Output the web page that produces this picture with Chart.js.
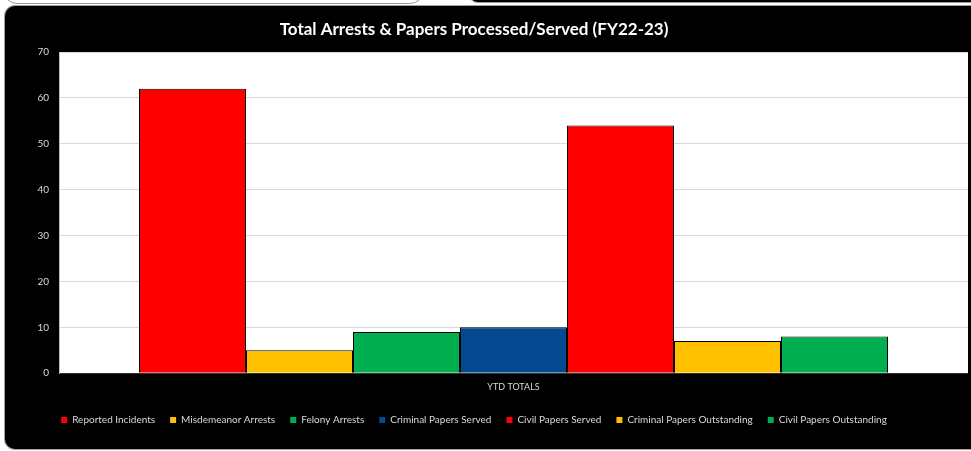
<!DOCTYPE html>
<html>
<head>
<meta charset="utf-8">
<script src="https://cdn.jsdelivr.net/npm/chart.js@4"></script>
<style>
  html, body { margin: 0; padding: 0; background: #fff; overflow: hidden; width: 971px; height: 451px; }
  .topLeft { position: absolute; left: 3px; top: -30px; width: 419px; height: 32px; border: 1px solid #9a9a9a; border-radius: 14px; background: #fff; }
  .topRight { position: absolute; left: 468px; top: -30px; width: 540px; height: 31px; background: #000; border: 1px solid #9a9a9a; border-radius: 10px; }
  .panel { position: absolute; left: 5px; top: 6px; width: 1000px; height: 443px; background: #000; border-radius: 10px; box-shadow: 0 0 0 1px #a0a0a0; }
  .wrap { position: absolute; left: 0; top: 0; width: 966px; height: 443px; }
</style>
</head>
<body>
<div class="topLeft"></div>
<div class="topRight"></div>
<div class="panel">
  <div class="wrap"><canvas id="arrests"></canvas></div>
</div>
<script>
const categories = ['YTD TOTALS'];
const seriesNames = ['Reported Incidents', 'Misdemeanor Arrests', 'Felony Arrests', 'Criminal Papers Served',
  'Civil Papers Served', 'Criminal Papers Outstanding', 'Civil Papers Outstanding'];
const seriesValues = [62, 5, 9, 10, 54, 7, 8];
const seriesColors = ['#ff0000', '#ffc000', '#00b050', '#054a91', '#ff0000', '#ffc000', '#00b050'];
const yTicks = { min: 0, max: 70, step: 10 };

const TEXT = '#d9d9d9';
const FONT = 'Lato';

// white plot area on the black panel
const plotBg = {
  id: 'plotBg',
  beforeDraw(chart) {
    const { ctx, chartArea: a } = chart;
    ctx.save();
    ctx.fillStyle = '#ffffff';
    ctx.fillRect(a.left, a.top, a.width, a.height);
    ctx.restore();
  }
};

new Chart(document.getElementById('arrests'), {
  type: 'bar',
  data: {
    labels: categories,
    datasets: seriesNames.map((name, i) => ({
      label: name,
      data: [seriesValues[i]],
      backgroundColor: seriesColors[i],
      borderColor: '#000', borderWidth: 1,
      barPercentage: 1, categoryPercentage: 0.824
    }))
  },
  options: {
    responsive: true, maintainAspectRatio: false, animation: false,
    layout: { padding: { left: -25, right: 3, top: 13, bottom: 14 } },
    plugins: {
      title: {
        display: true, text: 'Total Arrests & Papers Processed/Served (FY22-23)',
        color: '#ffffff', font: { family: FONT, size: 17, weight: 'bold' },
        padding: { top: 0, bottom: 12.6 }
      },
      legend: {
        position: 'bottom',
        labels: {
          color: TEXT, font: { family: FONT, size: 10 }, boxWidth: 6, boxHeight: 6, padding: 15,
          generateLabels: chart => Chart.defaults.plugins.legend.labels.generateLabels(chart)
            .map(l => ({ ...l, lineWidth: 0 }))
        }
      },
      tooltip: { enabled: false }
    },
    scales: {
      x: {
        grid: { display: false, drawTicks: false },
        border: { display: false },
        ticks: { color: TEXT, font: { family: FONT, size: 9 }, padding: 8 }
      },
      y: {
        min: yTicks.min, max: yTicks.max,
        afterFit: s => { s.width = 79; },
        grid: { color: c => c.tick.value === 0 ? 'rgba(0,0,0,0)' : '#d9d9d9', drawTicks: false },
        border: { color: '#bfbfbf' },
        ticks: { stepSize: yTicks.step, color: TEXT, font: { family: FONT, size: 10 }, padding: 10 }
      }
    }
  },
  plugins: [plotBg]
});
</script>
</body>
</html>
